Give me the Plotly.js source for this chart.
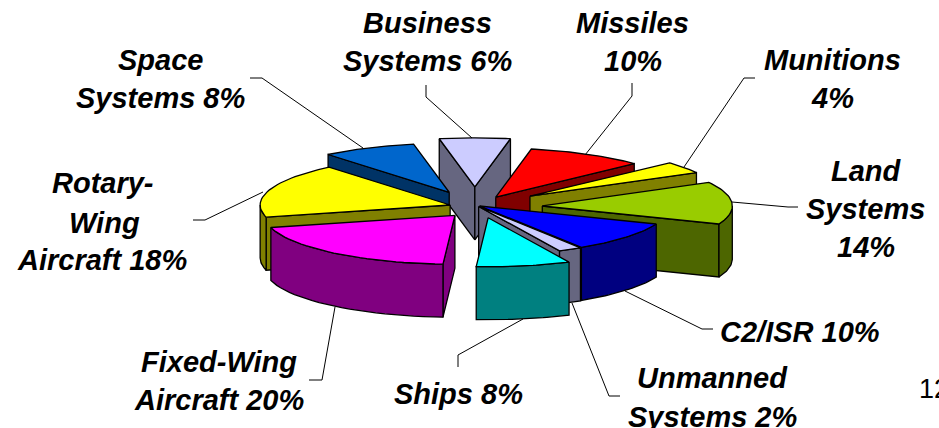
<!DOCTYPE html>
<html>
<head>
<meta charset="utf-8">
<script src="https://cdn.plot.ly/plotly-3.0.1.min.js"></script>
<style>html,body{margin:0;padding:0;background:#fff;overflow:hidden}#chart{width:939px;height:428px}</style>
</head>
<body>
<div id="chart"></div>
<script>
// Segment names and shares (percent), clockwise from the top of the pie.
const categories = ['Business Systems','Missiles','Munitions','Land Systems','C2/ISR','Unmanned Systems','Ships','Fixed-Wing Aircraft','Rotary-Wing Aircraft','Space Systems'];
const shares = [6,10,4,14,10,2,8,20,18,8];
const topColors = ['#CCCCFF','#FF0000','#FFFF00','#99CC00','#0000FF','#CCCCFF','#00FFFF','#FF00FF','#FFFF00','#0066CC'];
const wallColors = ['#666680','#800000','#808000','#4D6600','#000080','#666680','#008080','#800080','#808000','#003366'];

// How far each segment is pulled from the pie centre, in pie radii.
const pullX = [0.015,0.125,0.305,0.37,0.04,0.035,0.085,-0.09,-0.115,-0.12];
const pullY = [-0.37,-0.16,-0.18,0.02,0.02,0.03,0.26,0.21,0.0,-0.26];

// Pie geometry on the pixel-sized axes.
const pieCentre = [472, 205], radiusX = 190, radiusY = 49, wallHeight = 53;

// Rendering order: back segments first so nearer ones overlap them.
const paintOrder = [0,1,2,3,9,8,7,4,5,6];

const labelLines = [
  ['Business',427,23],['Systems 6%',427,61],
  ['Missiles',632,23],['10%',633,61],
  ['Munitions',832,60],['4%',832,98],
  ['Land',866,171],['Systems',865,209],['14%',866,247],
  ['C2/ISR 10%',800,332],
  ['Unmanned',712,378],['Systems 2%',712,417],
  ['Ships 8%',458,394],
  ['Fixed-Wing',219,362],['Aircraft 20%',219,400],
  ['Rotary-',103,183],['Wing',104,223],['Aircraft 18%',102,260],
  ['Space',160,60],['Systems 8%',160,98]
];

const leaderPaths = [
  [[250,78],[262,78],[363,148]],
  [[426,85],[426,97],[472,138]],
  [[632,83],[632,96],[585,155]],
  [[755,78],[744,78],[684,167]],
  [[732,202],[788,207],[798,207]],
  [[625,291],[702,329],[713,329]],
  [[572,303],[609,396],[620,396]],
  [[523,319],[458,355],[458,367]],
  [[335,307],[322,380],[309,380]],
  [[193,220],[205,220],[263,192]]
];

const toRad = d => d * Math.PI / 180;
const traces = [];

function addFace(pts, fill) {
  traces.push({
    type: 'scatter', mode: 'lines', x: pts.map(p => p[0]), y: pts.map(p => p[1]),
    fill: 'toself', fillcolor: fill, line: {color: '#000', width: 1.3},
    hoverinfo: 'skip', showlegend: false
  });
}

// Cumulative angles: the first segment is centred on the top of the pie.
const total = shares.reduce((a, b) => a + b, 0);
const startAngle = -shares[0] / total * 180;
let running = startAngle;
const spans = shares.map(v => { const a0 = running; running += v / total * 360; return [a0, running]; });

function drawSlice(i) {
  const [a0, a1] = spans[i];
  const apex = [pieCentre[0] + pullX[i] * radiusX, pieCentre[1] + pullY[i] * radiusY];
  const rim = a => [apex[0] + radiusX * Math.sin(toRad(a)), apex[1] - radiusY * Math.cos(toRad(a))];
  const drop = p => [p[0], p[1] + wallHeight];
  const wrap = a => ((a % 360) + 360) % 360;

  // Radial walls face the viewer only on one side of the pie.
  if (Math.sin(toRad(a0)) < 0) {
    addFace([apex, rim(a0), drop(rim(a0)), drop(apex), apex], wallColors[i]);
  }
  if (Math.sin(toRad(a1)) > 0) {
    addFace([apex, rim(a1), drop(rim(a1)), drop(apex), apex], wallColors[i]);
  }

  // Curved wall: only the part on the near half of the rim.
  const frontFrom = Math.max(a0, a0 < 90 && a1 > 90 ? 90 : a0);
  const frontTo = Math.min(a1, a0 < 270 && a1 > 270 ? 270 : a1);
  if (wrap(frontFrom) >= 90 && wrap(frontFrom) < 270 && frontTo > frontFrom) {
    const edge = [], under = [];
    for (let a = frontFrom; a <= frontTo + 1e-6; a += (frontTo - frontFrom) / 24) {
      edge.push(rim(a)); under.unshift(drop(rim(a)));
    }
    addFace(edge.concat(under, [edge[0]]), wallColors[i]);
  }

  // Top surface.
  const top = [apex];
  for (let k = 0; k <= 30; k++) top.push(rim(a0 + (a1 - a0) * k / 30));
  top.push(apex);
  addFace(top, topColors[i]);
}

paintOrder.forEach(drawSlice);

leaderPaths.forEach(path => traces.push({
  type: 'scatter', mode: 'lines', x: path.map(p => p[0]), y: path.map(p => p[1]),
  line: {color: '#000', width: 1}, hoverinfo: 'skip', showlegend: false
}));

const annotations = labelLines.map(([text, x, y]) => ({
  text, x, y, xref: 'x', yref: 'y', xanchor: 'center', yanchor: 'middle', showarrow: false,
  font: {family: '"Liberation Sans", Arial, sans-serif', size: 29, color: '#000', weight: 'bold', style: 'italic'}
}));
annotations.push({
  text: '12', x: 917, y: 389, xref: 'x', yref: 'y', xanchor: 'left', yanchor: 'middle', showarrow: false,
  font: {family: '"Liberation Sans", Arial, sans-serif', size: 27, color: '#000'}
});

const hiddenAxis = {visible: false, fixedrange: true};
Plotly.newPlot('chart', traces, {
  width: 939, height: 428, margin: {l: 0, r: 0, t: 0, b: 0},
  paper_bgcolor: '#fff', plot_bgcolor: '#fff', showlegend: false,
  xaxis: Object.assign({range: [0, 939]}, hiddenAxis),
  yaxis: Object.assign({range: [428, 0]}, hiddenAxis),
  annotations
}, {staticPlot: true, displayModeBar: false});
</script>
</body>
</html>
